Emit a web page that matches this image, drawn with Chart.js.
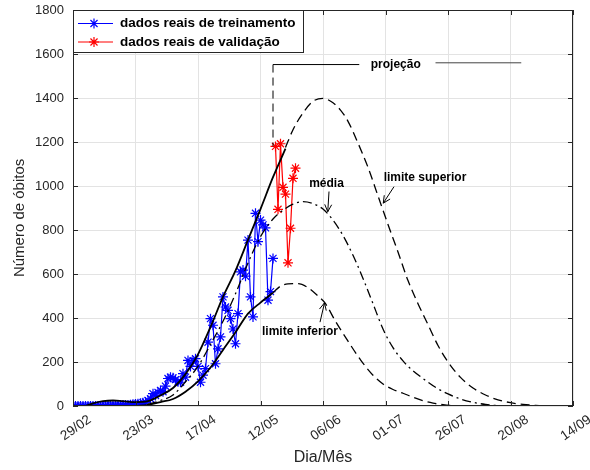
<!DOCTYPE html>
<html>
<head>
<meta charset="utf-8">
<script src="https://cdn.jsdelivr.net/npm/chart.js@4.4.1/dist/chart.umd.min.js"></script>
<style>
  html, body { margin: 0; padding: 0; background: #fff; }
  canvas { display: block; }
</style>
</head>
<body>
<canvas id="graficoObitos" width="590" height="470"></canvas>
<script>
// rótulos do eixo x (um a cada 25 dias a partir de 29/02)
const rotulosDias = ['29/02', '23/03', '17/04', '12/05', '06/06', '01-07', '26/07', '20/08', '14/09'];
const rotulosY = [0, 200, 400, 600, 800, 1000, 1200, 1400, 1600, 1800];

// dados reais de treinamento: óbitos diários, dia 0 (29/02) até dia 80
const obitosTreino = [
  0, 0, 0, 0, 0, 0, 0, 0, 0, 0,
  0, 0, 0, 1, 1, 1, 2, 2, 3, 3,
  4, 5, 5, 6, 8, 9, 10, 12, 15, 18,
  25, 33, 56, 48, 62, 71, 65, 90, 125, 131,
  128, 120, 110, 108, 147, 131, 207, 180, 205, 215,
  180, 108, 140, 170, 290, 397, 367, 192, 260, 314,
  496, 450, 435, 397, 350, 283, 420, 610, 618, 590,
  754, 496, 405, 876, 747, 845, 823, 810, 481, 520, 671
];
// dados reais de validação: dias 81 a 89
const diasValidacao = [81, 82, 83, 84, 85, 86, 87, 88, 89];
const obitosValidacao = [1180, 894, 1192, 994, 963, 651, 808, 1035, 1081];

// limite superior (ajuste) e projeção
const diasSupAjuste = [5, 8, 12, 16, 20, 25, 30, 35, 40, 45, 50, 55, 60, 65, 70, 75, 80, 85];
const valSupAjuste = [0, 12, 22, 25, 22, 18, 22, 48, 82, 145, 235, 359, 496, 615, 755, 895, 1040, 1170];
const diasSupProj = [85, 88, 92, 96, 100, 104, 107, 110, 114, 118, 122, 126, 130, 134, 138, 142, 146, 150, 155, 160, 165, 170, 175, 180, 185, 190, 195, 200];
const valSupProj = [1175, 1256, 1332, 1385, 1398, 1378, 1345, 1294, 1195, 1085, 955, 825, 700, 570, 465, 370, 275, 200, 130, 82, 50, 28, 15, 7, 3, 1, 0, 0];

// média
const diasMedia = [30, 35, 40, 45, 50, 55, 60, 65, 70, 75, 80, 84, 88, 92, 96, 100, 104, 108, 112, 116, 120, 124, 128, 132, 136, 140, 145, 150, 155, 160, 165, 170, 180];
const valMedia = [8, 25, 50, 110, 180, 280, 385, 510, 650, 770, 850, 890, 918, 929, 920, 895, 845, 775, 685, 580, 465, 350, 265, 205, 160, 125, 85, 55, 32, 17, 7, 2, 0];

// limite inferior (ajuste) e projeção
const diasInfAjuste = [25, 30, 35, 40, 45, 50, 55, 60, 65, 70, 75, 80];
const valInfAjuste = [0, 5, 18, 32, 65, 112, 175, 255, 335, 420, 470, 515];
const diasInfProj = [80, 83, 86, 90, 94, 98, 101, 105, 110, 115, 120, 124, 128, 132, 136, 140, 144, 148, 152, 160];
const valInfProj = [515, 545, 555, 556, 538, 500, 465, 385, 295, 210, 140, 100, 75, 58, 40, 24, 13, 6, 2, 0];

const fonte = "'Liberation Sans', Arial, sans-serif";
const corTexto = '#262626';

function pares(xs, ys) {
  return ys.map((v, i) => ({x: xs[i], y: v}));
}

function curva(rotulo, xs, ys, tracejado, largura) {
  return {
    label: rotulo,
    data: pares(xs, ys),
    borderColor: '#000',
    borderWidth: largura,
    borderDash: tracejado,
    pointRadius: 0,
    cubicInterpolationMode: 'monotone',
    fill: false
  };
}

function seta(ctx, x0, y0, x1, y1) {
  const ang = Math.atan2(y1 - y0, x1 - x0);
  const tam = 8;
  ctx.beginPath();
  ctx.moveTo(x0, y0);
  ctx.lineTo(x1, y1);
  ctx.moveTo(x1 - tam * Math.cos(ang - 0.45), y1 - tam * Math.sin(ang - 0.45));
  ctx.lineTo(x1, y1);
  ctx.lineTo(x1 - tam * Math.cos(ang + 0.45), y1 - tam * Math.sin(ang + 0.45));
  ctx.stroke();
}

function asterisco(ctx, cx, cy, r, cor) {
  ctx.save();
  ctx.strokeStyle = cor;
  ctx.lineWidth = 1.2;
  ctx.beginPath();
  for (let k = 0; k < 4; k++) {
    const a = k * Math.PI / 4;
    ctx.moveTo(cx - r * Math.cos(a), cy - r * Math.sin(a));
    ctx.lineTo(cx + r * Math.cos(a), cy + r * Math.sin(a));
  }
  ctx.stroke();
  ctx.restore();
}

// textos, setas e a marcação da projeção
const anotacoes = {
  id: 'anotacoes',
  afterDatasetsDraw(chart) {
    const {ctx, scales: {x, y}} = chart;
    ctx.save();
    ctx.strokeStyle = '#000';
    ctx.fillStyle = '#000';
    ctx.lineWidth = 1;

    // linha vertical tracejada no início da projeção
    ctx.setLineDash([8, 5]);
    ctx.beginPath();
    ctx.moveTo(x.getPixelForValue(80), y.getPixelForValue(1552));
    ctx.lineTo(x.getPixelForValue(80), y.getPixelForValue(1180));
    ctx.stroke();
    ctx.setLineDash([]);
    ctx.beginPath();
    ctx.moveTo(x.getPixelForValue(80), y.getPixelForValue(1552));
    ctx.lineTo(x.getPixelForValue(114.5), y.getPixelForValue(1552));
    ctx.stroke();
    ctx.strokeStyle = '#444';
    ctx.beginPath();
    ctx.moveTo(x.getPixelForValue(145), y.getPixelForValue(1560));
    ctx.lineTo(x.getPixelForValue(179.3), y.getPixelForValue(1560));
    ctx.stroke();
    ctx.strokeStyle = '#000';

    ctx.font = 'bold 12px ' + fonte;
    ctx.textAlign = 'center';
    ctx.textBaseline = 'middle';
    ctx.fillText('projeção', x.getPixelForValue(129.1), y.getPixelForValue(1552));
    ctx.fillText('média', x.getPixelForValue(101.4), y.getPixelForValue(1010));
    ctx.fillText('limite superior', x.getPixelForValue(140.8), y.getPixelForValue(1038));
    ctx.fillText('limite inferior', x.getPixelForValue(90.8), y.getPixelForValue(336));

    seta(ctx, x.getPixelForValue(102.4), y.getPixelForValue(975), x.getPixelForValue(101.9), y.getPixelForValue(883));
    seta(ctx, x.getPixelForValue(128.4), y.getPixelForValue(997), x.getPixelForValue(124.1), y.getPixelForValue(922));
    seta(ctx, x.getPixelForValue(98.8), y.getPixelForValue(381), x.getPixelForValue(100.6), y.getPixelForValue(469));
    ctx.restore();
  }
};

// caixa dos eixos com marcas para dentro, rótulos dos eixos e a legenda
const moldura = {
  id: 'moldura',
  afterDraw(chart) {
    const {ctx, chartArea: a, scales: {x, y}} = chart;
    ctx.save();
    ctx.strokeStyle = corTexto;
    ctx.lineWidth = 1;
    ctx.strokeRect(a.left + 0.5, a.top + 0.5, a.right - a.left - 1, a.bottom - a.top - 1);
    ctx.beginPath();
    x.ticks.forEach(t => {
      const px = Math.round(x.getPixelForValue(t.value)) + 0.5;
      ctx.moveTo(px, a.bottom);
      ctx.lineTo(px, a.bottom - 5);
      ctx.moveTo(px, a.top);
      ctx.lineTo(px, a.top + 5);
    });
    y.ticks.forEach(t => {
      const py = Math.round(y.getPixelForValue(t.value)) + 0.5;
      ctx.moveTo(a.left, py);
      ctx.lineTo(a.left + 5, py);
      ctx.moveTo(a.right, py);
      ctx.lineTo(a.right - 5, py);
    });
    ctx.stroke();

    ctx.fillStyle = corTexto;
    // rótulos do eixo y
    ctx.font = '13px ' + fonte;
    ctx.textAlign = 'right';
    ctx.textBaseline = 'middle';
    y.ticks.forEach(t => {
      ctx.fillText(String(t.value), a.left - 9, y.getPixelForValue(t.value));
    });

    // título do eixo y
    ctx.save();
    ctx.font = '15px ' + fonte;
    ctx.textAlign = 'center';
    ctx.translate(20, y.getPixelForValue(855));
    ctx.rotate(-Math.PI / 2);
    ctx.fillText('Número de óbitos', 0, 0);
    ctx.restore();

    // rótulos do eixo x, girados em torno do centro
    ctx.font = '13.5px ' + fonte;
    ctx.textAlign = 'center';
    x.ticks.forEach((t, i) => {
      ctx.save();
      ctx.translate(x.getPixelForValue(t.value) + 3, a.bottom + 22);
      ctx.rotate(-35 * Math.PI / 180);
      ctx.fillText(rotulosDias[i], 0, 0);
      ctx.restore();
    });

    // legenda
    const lx = a.left, ly = a.top, lw = 230, lh = 42;
    ctx.fillStyle = '#fff';
    ctx.fillRect(lx, ly, lw, lh);
    ctx.strokeStyle = corTexto;
    ctx.strokeRect(lx + 0.5, ly + 0.5, lw, lh);
    const itens = [['dados reais de treinamento', '#0000ff'], ['dados reais de validação', '#ff0000']];
    ctx.font = 'bold 13.5px ' + fonte;
    ctx.textBaseline = 'middle';
    ctx.textAlign = 'left';
    itens.forEach((it, i) => {
      const yy = ly + 13.5 + i * 18.5;
      ctx.strokeStyle = it[1];
      ctx.lineWidth = 1.2;
      ctx.beginPath();
      ctx.moveTo(lx + 5, yy);
      ctx.lineTo(lx + 40, yy);
      ctx.stroke();
      asterisco(ctx, lx + 21, yy, 5, it[1]);
      ctx.fillStyle = '#000';
      ctx.fillText(it[0], lx + 47, yy);
    });
    ctx.restore();
  }
};

const config = {
  type: 'line',
  data: {
    datasets: [
      curva('limite superior', diasSupAjuste, valSupAjuste, [], 1.8),
      curva('limite superior (projeção)', diasSupProj, valSupProj, [9, 5], 1.3),
      curva('média', diasMedia, valMedia, [9, 4, 2, 4], 1.3),
      curva('limite inferior', diasInfAjuste, valInfAjuste, [], 1.8),
      curva('limite inferior (projeção)', diasInfProj, valInfProj, [9, 5], 1.3),
      {
        label: 'dados reais de treinamento',
        data: obitosTreino.map((v, i) => ({x: i, y: v})),
        borderColor: '#0000ff',
        borderWidth: 1.2,
        pointStyle: 'star',
        pointRadius: 5,
        pointBorderColor: '#0000ff',
        pointBorderWidth: 1.2,
        tension: 0
      },
      {
        label: 'dados reais de validação',
        data: pares(diasValidacao, obitosValidacao),
        borderColor: '#ff0000',
        borderWidth: 1.2,
        pointStyle: 'star',
        pointRadius: 5,
        pointBorderColor: '#ff0000',
        pointBorderWidth: 1.2,
        tension: 0
      }
    ]
  },
  options: {
    responsive: false,
    animation: false,
    layout: { padding: { left: 0, right: 17, top: 10, bottom: 0 } },
    plugins: {
      legend: { display: false },
      tooltip: { enabled: false }
    },
    scales: {
      x: {
        type: 'linear',
        min: 0,
        max: 200,
        afterFit: s => { s.height = 64; },
        afterBuildTicks: s => { s.ticks = rotulosDias.map((r, i) => ({value: i * 25})); },
        grid: { color: '#e3e3e3', drawTicks: false },
        border: { display: false },
        ticks: { display: false },
        title: {
          display: true,
          text: 'Dia/Mês',
          color: corTexto,
          font: { family: fonte, size: 16 },
          padding: { top: 0, bottom: 3 }
        }
      },
      y: {
        min: 0,
        max: 1800,
        afterFit: s => { s.width = 73; },
        afterBuildTicks: s => { s.ticks = rotulosY.map(v => ({value: v})); },
        grid: { color: '#e3e3e3', drawTicks: false },
        border: { display: false },
        ticks: { display: false }
      }
    }
  },
  plugins: [anotacoes, moldura]
};

new Chart(document.getElementById('graficoObitos'), config);
</script>
</body>
</html>
